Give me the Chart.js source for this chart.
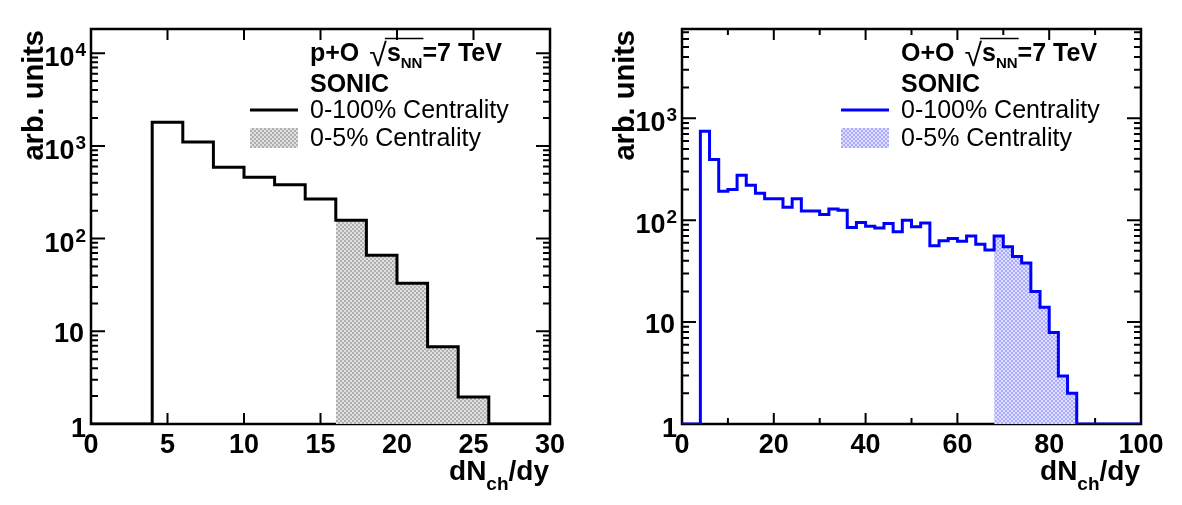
<!DOCTYPE html>
<html>
<head>
<meta charset="utf-8">
<script src="https://cdn.jsdelivr.net/npm/chart.js@4.4.1/dist/chart.umd.min.js"></script>
<style>
  html, body { margin: 0; padding: 0; background: #fff; }
  #wrap { position: relative; width: 1182px; height: 505px; }
  canvas { position: absolute; top: 0; }
</style>
</head>
<body>
<div id="wrap">
  <canvas id="pOChart" width="591" height="505" style="left:0"></canvas>
  <canvas id="OOChart" width="591" height="505" style="left:591px"></canvas>
</div>
<script>
// p+O, sqrt(sNN) = 7 TeV (SONIC)
const pOEdges = [0, 2, 4, 6, 8, 10, 12, 14, 16, 18, 20, 22, 24, 26, 28, 30];
const pOCounts = [1, 1, 1800, 1100, 590, 460, 380, 267, 158, 66, 33, 6.8, 1.95, 1, 1];
const pOCentralEdges = [16, 18, 20, 22, 24, 26];
const pOCentral = [158, 66, 33, 6.8, 1.95];
const pOXTicks = [0, 5, 10, 15, 20, 25, 30];
const pOXMinor = [];
const pOYTicks = [1, 10, 100, 1000, 10000];
const pOYLabels = [['1', ''], ['10', ''], ['10', '2'], ['10', '3'], ['10', '4']];

// O+O, sqrt(sNN) = 7 TeV (SONIC)
const OOEdges = [0, 2, 4, 6, 8, 10, 12, 14, 16, 18, 20, 22, 24, 26, 28, 30, 32, 34, 36, 38, 40,
  42, 44, 46, 48, 50, 52, 54, 56, 58, 60, 62, 64, 66, 68, 70, 72, 74, 76, 78, 80,
  82, 84, 86, 88, 90, 92, 94, 96, 98, 100];
const OOCounts = [1, 1, 745, 395, 192, 200, 276, 220, 184, 162,
  162, 134, 162, 123, 123, 114, 129, 125, 85, 95,
  87, 84, 93, 77, 100, 86, 94, 56, 63, 66,
  62, 70, 58, 51, 70, 55, 44, 38, 20, 14,
  7.9, 2.95, 2.0, 1, 1, 1, 1, 1, 1, 1];
const OOCentralEdges = [68, 70, 72, 74, 76, 78, 80, 82, 84, 86];
const OOCentral = [70, 55, 44, 38, 20, 14, 7.9, 2.95, 2.0];
const OOXTicks = [0, 20, 40, 60, 80, 100];
const OOXMinor = [10, 30, 50, 70, 90];
const OOYTicks = [1, 10, 100, 1000];
const OOYLabels = [['1', ''], ['10', ''], ['10', '2'], ['10', '3']];

const FONT = '"Liberation Sans", Arial, Helvetica, sans-serif';

// left edge of every bin plus the closing right edge, drawn with stepped lines
function histPoints(edges, counts) {
  const pts = counts.map((c, i) => ({ x: edges[i], y: c }));
  pts.push({ x: edges[counts.length], y: counts[counts.length - 1] });
  return pts;
}

// small checkerboard like ROOT's fill style 3002-ish
function checker(dark, light) {
  const c = document.createElement('canvas');
  c.width = 4; c.height = 4;
  const g = c.getContext('2d');
  g.fillStyle = light;
  g.fillRect(0, 0, 4, 4);
  g.fillStyle = dark;
  g.fillRect(0, 0, 2, 2);
  g.fillRect(2, 2, 2, 2);
  return g.createPattern(c, 'repeat');
}

function rootFrame(cfg) {
  return {
    id: 'rootFrame',
    beforeDatasetsDraw(chart) {
      const ctx = chart.ctx;
      const { left, right, top, bottom } = chart.chartArea;
      const xs = chart.scales.x, ys = chart.scales.y;
      ctx.save();
      ctx.strokeStyle = '#000';
      ctx.lineWidth = 2.5;
      ctx.strokeRect(left, top, right - left, bottom - top);
      ctx.lineWidth = 2;
      ctx.beginPath();
      cfg.xTicks.forEach(v => {
        const px = xs.getPixelForValue(v);
        ctx.moveTo(px, bottom); ctx.lineTo(px, bottom - 11);
        ctx.moveTo(px, top); ctx.lineTo(px, top + 11);
      });
      cfg.xMinor.forEach(v => {
        const px = xs.getPixelForValue(v);
        ctx.moveTo(px, bottom); ctx.lineTo(px, bottom - 6);
        ctx.moveTo(px, top); ctx.lineTo(px, top + 6);
      });
      // log ticks: decades long, 2..9 short
      for (let d = 1; d <= ys.max; d *= 10) {
        for (let m = 1; m <= 9; m++) {
          const v = d * m;
          if (v > ys.max) break;
          const py = ys.getPixelForValue(v);
          const len = m === 1 ? 14 : 7;
          ctx.moveTo(left, py); ctx.lineTo(left + len, py);
          ctx.moveTo(right, py); ctx.lineTo(right - len, py);
        }
      }
      ctx.stroke();
      ctx.restore();
    },
    afterDraw(chart) {
      const ctx = chart.ctx;
      const xs = chart.scales.x, ys = chart.scales.y;
      ctx.save();
      ctx.fillStyle = '#000';
      ctx.textBaseline = 'alphabetic';

      // x tick labels
      ctx.font = 'bold 27px ' + FONT;
      ctx.textAlign = 'center';
      cfg.xTicks.forEach(v => ctx.fillText(String(v), xs.getPixelForValue(v), 453));

      // y tick labels
      cfg.yTicks.forEach((v, i) => {
        const py = ys.getPixelForValue(v);
        const [base, sup] = cfg.yLabels[i];
        ctx.textAlign = 'right';
        if (sup) {
          ctx.font = 'bold 19px ' + FONT;
          const sw = ctx.measureText(sup).width;
          ctx.fillText(sup, 86, py + 3);
          ctx.font = 'bold 27px ' + FONT;
          ctx.fillText(base, 86 - sw - 1, py + 13);
        } else {
          ctx.font = 'bold 27px ' + FONT;
          ctx.fillText(base, base === '1' ? 86 : 84, py + (base === '1' ? 13 : 11));
        }
      });

      // x title: dN_ch/dy
      ctx.textAlign = 'left';
      ctx.font = 'bold 28px ' + FONT;
      const w1 = ctx.measureText('dN').width, w3 = ctx.measureText('/dy').width;
      ctx.font = 'bold 19px ' + FONT;
      const w2 = ctx.measureText('ch').width;
      const x0 = 549 - (w1 + w2 + w3);
      ctx.font = 'bold 28px ' + FONT;
      ctx.fillText('dN', x0, 480);
      ctx.fillText('/dy', x0 + w1 + w2, 480);
      ctx.font = 'bold 19px ' + FONT;
      ctx.fillText('ch', x0 + w1, 490);

      // y title
      ctx.save();
      ctx.translate(43, 30);
      ctx.rotate(-Math.PI / 2);
      ctx.textAlign = 'right';
      ctx.font = 'bold 29px ' + FONT;
      ctx.fillText('arb. units', 0, 0);
      ctx.restore();

      // header: system, sqrt(s_NN)=7 TeV
      const tx = 310;
      ctx.textAlign = 'left';
      ctx.font = 'bold 25px ' + FONT;
      ctx.fillText(cfg.system, tx, 61);
      let cx = tx + ctx.measureText(cfg.system).width + 10;
      ctx.font = '32px ' + FONT;
      ctx.fillText('\u221A', cx, 66);
      cx += ctx.measureText('\u221A').width;
      const barStart = cx - 2;
      ctx.font = 'bold 25px ' + FONT;
      ctx.fillText('s', cx, 61);
      cx += ctx.measureText('s').width;
      ctx.font = 'bold 15px ' + FONT;
      ctx.fillText('NN', cx, 68);
      cx += ctx.measureText('NN').width;
      ctx.strokeStyle = '#000';
      ctx.lineWidth = 1.3;
      ctx.beginPath();
      ctx.moveTo(barStart, 38.5); ctx.lineTo(cx + 1, 38.5);
      ctx.stroke();
      ctx.font = 'bold 25px ' + FONT;
      ctx.fillText('=7 TeV', cx, 61);
      ctx.fillText('SONIC', tx, 92);

      // legend entries
      ctx.font = '25px ' + FONT;
      ctx.fillText('0-100% Centrality', tx, 118);
      ctx.fillText('0-5% Centrality', tx, 146);
      ctx.strokeStyle = cfg.color;
      ctx.lineWidth = 3;
      ctx.beginPath();
      ctx.moveTo(250, 110); ctx.lineTo(298, 110);
      ctx.stroke();
      ctx.fillStyle = cfg.pattern;
      ctx.fillRect(250, 128, 48, 20);
      ctx.restore();
    }
  };
}

function makeChart(id, cfg) {
  return new Chart(document.getElementById(id), {
    type: 'line',
    data: {
      datasets: [
        {
          data: histPoints(cfg.edges, cfg.counts),
          stepped: 'before',
          borderColor: cfg.color,
          borderWidth: 3,
          pointRadius: 0,
          fill: false
        },
        {
          data: histPoints(cfg.centralEdges, cfg.central),
          stepped: 'before',
          borderColor: 'rgba(0,0,0,0)',
          borderWidth: 1,
          backgroundColor: cfg.pattern,
          pointRadius: 0,
          fill: 'start'
        }
      ]
    },
    options: {
      responsive: false,
      animation: false,
      layout: { padding: { left: 91, right: 41, top: 29, bottom: 81 } },
      plugins: { legend: { display: false }, tooltip: { enabled: false } },
      scales: {
        x: { type: 'linear', min: cfg.xMin, max: cfg.xMax, display: false },
        y: { type: 'logarithmic', min: 1, max: cfg.yMax, display: false }
      }
    },
    plugins: [rootFrame(cfg)]
  });
}

makeChart('pOChart', {
  system: 'p+O',
  edges: pOEdges, counts: pOCounts,
  centralEdges: pOCentralEdges, central: pOCentral,
  xTicks: pOXTicks, xMinor: pOXMinor,
  yTicks: pOYTicks, yLabels: pOYLabels,
  xMin: 0, xMax: 30, yMax: 18250,
  color: '#000000',
  pattern: checker('#b0b0b0', '#e0e0e0')
});

makeChart('OOChart', {
  system: 'O+O',
  edges: OOEdges, counts: OOCounts,
  centralEdges: OOCentralEdges, central: OOCentral,
  xTicks: OOXTicks, xMinor: OOXMinor,
  yTicks: OOYTicks, yLabels: OOYLabels,
  xMin: 0, xMax: 100, yMax: 7520,
  color: '#0000ff',
  pattern: checker('#aaaaff', '#dedeff')
});
</script>
</body>
</html>
